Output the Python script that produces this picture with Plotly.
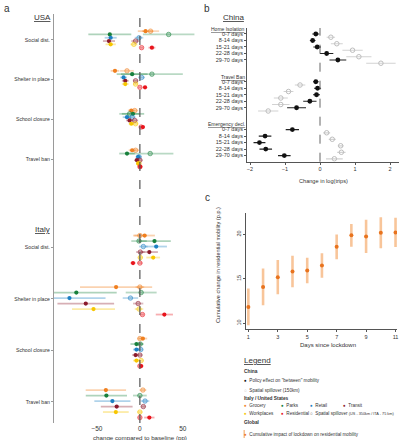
import plotly.graph_objects as go

W, H = 409, 440
FONT = "Liberation Sans, Arial, sans-serif"
TXT = "#333333"

# ---------------- Panel a data (USA / Italy) ----------------
categories = ["Social dist.", "Shelter in place", "School closure", "Travel ban"]
mobility_types = ["Grocery", "Parks", "Retail", "Transit", "Workplaces", "Residential"]
mobility_colors = ["#F07F1E", "#18803C", "#1D80C3", "#8B1A2C", "#F7C600", "#E8141C"]

# rows = policy categories, columns = mobility types
usa_effect = [[6.6, -35, -34, -36, -34, 14],
              [-29, -9, -19, -17, -17, 6],
              [-10, -8, -15, -12, -10, 3.5],
              [-9, -15, -2, -3.5, -2, 0.5]]
usa_effect_err = [[9, 25, 7, 7, 6, 4],
                  [5, 18, 4, 4, 4, 2],
                  [4, 13, 5, 4, 3, 2],
                  [4, 9, 3, 3, 2, 2]]
usa_spill = [[12.4, 33.5, -1, -5, -7, 2],
             [-15, 14, 2, -5, -5, 0],
             [-6, -12, -9, -6, -5, 1.5],
             [-5, 12, -1, 0, -1, 0]]
usa_spill_err = [[10, 30, 5, 5, 4, 2],
                 [8, 36, 4, 3, 3, 2],
                 [4, 12, 4, 4, 3, 2],
                 [4, 27, 3, 3, 2, 2]]

italy_effect = [[5.5, 17, 19, 11, 15.5, -8],
                [-27.7, -74, -82, -63, -54, 28.5],
                [3.5, -4, -4, -5, -4, 1.5],
                [-39.6, -39, -32, -27, -28, 11]]
italy_effect_err = [[12, 19, 12.5, 10, 8, 3],
                    [42, 47, 42, 33, 25, 10],
                    [5, 7, 4, 4, 4, 2.5],
                    [23.5, 24, 21, 18.5, 15, 6]]
italy_spill = [[0, -1, 4, 0.5, 0.5, 0],
               [0, 1.5, -11, -2, -1, 3],
               [0, 0.5, 1, 0, 1.5, 0],
               [3.5, 0, 6, 4, 0, 0]]
italy_spill_err = [[8, 9, 5, 5, 3, 3],
                   [5, 18, 9, 6, 5, 2],
                   [3, 4, 3, 3, 3, 2],
                   [4, 8, 5, 3, 3, 2]]

# ---------------- Panel b data (China) ----------------
china_policies = ["Home Isolation", "Travel Ban", "Emergency decl."]
china_periods = ["0-7 days", "8-14 days", "15-21 days", "22-28 days", "29-70 days"]
china_effect = [[-0.12, -0.21, -0.08, 0.19, 0.51],
                [-0.12, -0.07, -0.10, -0.29, -0.67],
                [-0.79, -1.57, -1.73, -1.55, -1.02]]
china_effect_err = [[0.10, 0.08, 0.11, 0.19, 0.24],
                    [0.08, 0.10, 0.10, 0.19, 0.27],
                    [0.19, 0.18, 0.17, 0.18, 0.18]]
china_spill = [[0.31, 0.48, 0.93, 1.11, 1.74],
               [-0.57, -0.90, -1.12, -1.12, -1.48],
               [0.19, 0.35, 0.59, 0.61, 0.41]]
china_spill_err = [[0.12, 0.17, 0.29, 0.36, 0.42],
                   [0.15, 0.14, 0.20, 0.25, 0.29],
                   [0.10, 0.10, 0.08, 0.12, 0.24]]

# ---------------- Panel c data (Global) ----------------
days = [1, 2, 3, 4, 5, 6, 7, 8, 9, 10, 11]
cum_effect = [11.84, 14.09, 15.19, 15.83, 15.94, 16.5, 18.6, 19.89, 19.77, 20.18, 20.22]
cum_err = [2.07, 2.07, 1.93, 1.77, 1.43, 1.38, 1.4, 1.29, 1.87, 1.75, 1.64]


def rgba(hexc, a):
    h = hexc.lstrip("#")
    return "rgba(%d,%d,%d,%.2f)" % (int(h[0:2], 16), int(h[2:4], 16), int(h[4:6], 16), a)


def px(p):
    return p / W


def py(p):
    return 1 - p / H


# dodge layout of panel a (first centre, category spacing, row step, tick shift)
country_layout = {"USA": (39.4, 39.7, 3.3, 0.5), "Italy": (249.3, 51.5, 5.5, -2.0)}


def row_pos(country, k, i):
    c0, cs, rs, _ = country_layout[country]
    return c0 + cs * k + (i - 2.5) * rs


fig = go.Figure()

# ---- panel a traces
panel_a = [("USA", usa_effect, usa_effect_err, usa_spill, usa_spill_err),
           ("Italy", italy_effect, italy_effect_err, italy_spill, italy_spill_err)]
for country, eff, eff_err, sp, sp_err in panel_a:
    for i, (mt, col) in enumerate(zip(mobility_types, mobility_colors)):
        ys = [row_pos(country, k, i) for k in range(len(categories))]
        fig.add_trace(go.Scatter(
            x=[sp[k][i] for k in range(len(categories))], y=ys, mode="markers",
            marker=dict(symbol="circle", size=4.5, color=rgba(col, 0.3),
                        line=dict(color=rgba(col, 0.65), width=0.8)),
            error_x=dict(type="data", array=[sp_err[k][i] for k in range(len(categories))],
                         color=rgba(col, 0.3), thickness=1.8, width=0),
            xaxis="x", yaxis="y", showlegend=False, hoverinfo="skip"))
        fig.add_trace(go.Scatter(
            x=[eff[k][i] for k in range(len(categories))], y=ys, mode="markers",
            marker=dict(symbol="circle", size=4.2, color=col),
            error_x=dict(type="data", array=[eff_err[k][i] for k in range(len(categories))],
                         color=rgba(col, 0.35), thickness=1.8, width=0),
            xaxis="x", yaxis="y", showlegend=False, hoverinfo="skip"))

a_tickvals, a_ticktext = [], []
for country in ["USA", "Italy"]:
    c0, cs, rs, shift = country_layout[country]
    for k, cat in enumerate(categories):
        a_tickvals.append(c0 + cs * k + shift)
        a_ticktext.append(cat)

# ---- panel b traces
GROUP_STEP = 7.35
b_tickvals, b_ticktext = [], []
for g, pol in enumerate(china_policies):
    rows = [g * GROUP_STEP + r for r in range(len(china_periods))]
    b_tickvals += rows
    b_ticktext += china_periods
    fig.add_trace(go.Scatter(
        x=china_spill[g], y=[r + 0.5 for r in rows], mode="markers",
        marker=dict(symbol="circle-open", size=4.5, color="#BDBDBD", line=dict(width=1)),
        error_x=dict(type="data", array=china_spill_err[g], color="#D2D2D2", thickness=1.2, width=0),
        xaxis="x2", yaxis="y2", showlegend=False, hoverinfo="skip"))
    fig.add_trace(go.Scatter(
        x=china_effect[g], y=rows, mode="markers",
        marker=dict(symbol="circle", size=4.8, color="#111111"),
        error_x=dict(type="data", array=china_effect_err[g], color="#222222", thickness=1.2, width=0),
        xaxis="x2", yaxis="y2", showlegend=False, hoverinfo="skip"))

# ---- panel c trace
fig.add_trace(go.Scatter(
    x=days, y=cum_effect, mode="markers",
    marker=dict(symbol="circle", size=4, color="#E8731E"),
    error_y=dict(type="data", array=cum_err, color=rgba("#F07F1E", 0.45), thickness=2.6, width=0),
    xaxis="x3", yaxis="y3", showlegend=False, hoverinfo="skip"))

axis_common = dict(showgrid=False, zeroline=False, tickfont=dict(size=5.5, color=TXT, family=FONT))

fig.update_layout(
    width=W, height=H, margin=dict(l=0, r=0, t=0, b=0),
    paper_bgcolor="white", plot_bgcolor="white", template="none",
    font=dict(family=FONT, color=TXT, size=6),
    xaxis=dict(domain=[px(54), px(200)], range=[-100, 70], tickvals=[-50, 0, 50],
               showline=False, ticks="", anchor="y", **{**axis_common, "tickfont": dict(size=6.5, color=TXT, family=FONT)}),
    yaxis=dict(domain=[py(423), py(14)], range=[423, 14], tickvals=a_tickvals, ticktext=a_ticktext,
               showline=True, linecolor="#9A9A9A", linewidth=1, ticks="outside", ticklen=2,
               tickcolor="#9A9A9A", anchor="x", **{**axis_common, "tickfont": dict(size=5.2, color=TXT, family=FONT)}),
    xaxis2=dict(domain=[px(247), px(399)], range=[-2.086, 2.257], tickvals=[-2, -1, 0, 1, 2],
                showline=True, linecolor="#555555", linewidth=0.8, ticks="outside", ticklen=2,
                tickcolor="#555555", anchor="y2", **axis_common),
    yaxis2=dict(domain=[py(161.7), py(28)], range=[19.65, -0.92], tickvals=b_tickvals, ticktext=b_ticktext,
                showline=True, linecolor="#555555", linewidth=0.8, ticks="outside", ticklen=2,
                tickcolor="#555555", anchor="x2", **axis_common),
    xaxis3=dict(domain=[px(245.7), px(397)], range=[0.82, 11.1], tickvals=[1, 3, 5, 7, 9, 11],
                showline=True, linecolor="#555555", linewidth=0.8, ticks="outside", ticklen=2,
                tickcolor="#555555", anchor="y3", **axis_common),
    yaxis3=dict(domain=[py(329.3), py(212.7)], range=[9.32, 22.44], tickvals=[10, 15, 20], tickangle=-90,
                showline=True, linecolor="#555555", linewidth=0.8, ticks="outside", ticklen=2,
                tickcolor="#555555", anchor="x3", **axis_common),
)

# dashed zero lines
fig.add_shape(type="line", xref="x", yref="y domain", x0=0, x1=0, y0=0, y1=1,
              line=dict(color="#555555", width=1.2, dash="dash"))
fig.add_shape(type="line", xref="x2", yref="y2 domain", x0=0, x1=0, y0=0, y1=1,
              line=dict(color="#555555", width=0.9, dash="dash"))

ann = []


def text(x, y, s, size, xanchor="left", color=TXT, **kw):
    ann.append(dict(x=px(x), y=py(y), xref="paper", yref="paper", text=s, showarrow=False,
                    xanchor=xanchor, yanchor="middle", font=dict(size=size, color=color, family=FONT), **kw))


# panel letters
text(2, 8, "a", 10)
text(202, 8, "b", 10)
text(203, 197, "c", 10)

# country headers
text(42, 18, "<u>USA</u>", 8, xanchor="center")
text(42, 229, "<u>Italy</u>", 8, xanchor="center")
text(233, 18, "<u>China</u>", 8, xanchor="center")

# china policy headers
for g, pol in enumerate(china_policies):
    ann.append(dict(x=px(247), y=g * GROUP_STEP - 0.8, xref="paper", yref="y2", text="<u>%s</u>" % pol,
                    showarrow=False, xanchor="right", yanchor="middle",
                    font=dict(size=5, color=TXT, family=FONT)))

# axis titles
text(140, 437, "change compared to baseline (pp)", 6.2, xanchor="center")
text(323, 181, "Change in log(trips)", 5.6, xanchor="center")
text(328, 344.5, "Days since lockdown", 6, xanchor="center")
text(218, 265, "Cumulative change in residential mobility (p.p.)", 5.6, xanchor="center", textangle=-90)

# legend
text(242, 360, "<u>Legend</u>", 8)
text(242, 371, "<b>China</b>", 4.8)
text(242, 380, '<span style="color:#111111">●</span>  Policy effect on "between" mobility', 4.6)
text(242, 390, '<span style="color:#BDBDBD">○</span>  Spatial spillover (150km)', 4.6)
text(242, 398.5, "<b>Italy / United States</b>", 4.8)
leg_cols_x = [242, 279, 307.5, 341]
for j in range(4):
    text(leg_cols_x[j], 405.5, '<span style="color:%s">●</span>  %s' % (mobility_colors[j], mobility_types[j]), 4.6)
for j in range(2):
    text(leg_cols_x[j], 413, '<span style="color:%s">●</span>  %s' % (mobility_colors[4 + j], mobility_types[4 + j]), 4.6)
text(leg_cols_x[2], 413, '<span style="color:#555555">○</span>  Spatial spillover <span style="font-size:3.8px">(US - 350km / ITA - 75 km)</span>', 4.6)
text(242, 422.5, "<b>Global</b>", 4.8)
text(242, 434, '<span style="color:#E8731E">●</span>  Cumulative impact of lockdown on residential mobility', 4.6)
fig.add_shape(type="line", xref="paper", yref="paper", x0=px(244.2), x1=px(244.2), y0=py(430), y1=py(438),
              line=dict(color=rgba("#F07F1E", 0.5), width=1.5))

fig.update_layout(annotations=ann)

fig.write_html("out.html", config={"displayModeBar": False},
               post_script="document.body.style.margin='0';document.body.style.padding='0';"
                           "document.documentElement.style.overflow='hidden';")
